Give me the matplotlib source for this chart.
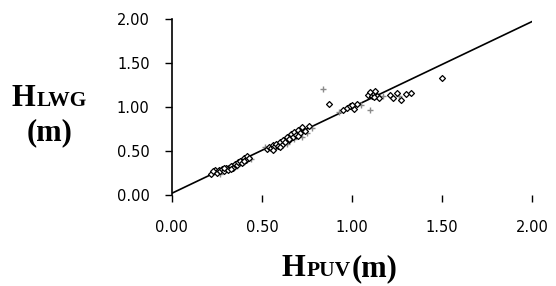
#!/usr/bin/env python3
"""
Scatter of H_LWG against H_PUV with a fitted line.
"""

import matplotlib
matplotlib.use("Agg")
import matplotlib.pyplot as plt

# Diamond points (H_PUV, H_LWG) in metres
puv_diamond = [0.22, 0.24, 0.25, 0.26, 0.27, 0.28, 0.29, 0.30, 0.31, 0.33,
               0.34, 0.35, 0.36, 0.37, 0.38, 0.39, 0.40, 0.41, 0.42, 0.43,
               0.53, 0.54, 0.55, 0.56, 0.57, 0.58, 0.59, 0.60, 0.61, 0.62,
               0.63, 0.64, 0.65, 0.66, 0.67, 0.68, 0.69, 0.70, 0.71, 0.72,
               0.74, 0.76, 0.87, 0.95, 0.97, 0.99, 1.01, 1.03, 1.09, 1.10,
               1.11, 1.12, 1.13, 1.14, 1.15, 1.21, 1.23, 1.25, 1.27, 1.30,
               1.33, 1.50, 0.23, 0.29, 0.33, 0.40, 0.56, 0.60, 0.65, 0.70,
               1.00, 1.12]
hlwg_diamond = [0.24, 0.28, 0.25, 0.29, 0.27, 0.30, 0.27, 0.31, 0.29, 0.33,
                0.31, 0.35, 0.34, 0.37, 0.39, 0.36, 0.42, 0.40, 0.44, 0.42,
                0.52, 0.55, 0.53, 0.57, 0.55, 0.58, 0.56, 0.60, 0.57, 0.63,
                0.60, 0.66, 0.62, 0.69, 0.66, 0.72, 0.68, 0.74, 0.70, 0.77,
                0.73, 0.78, 1.03, 0.96, 0.99, 1.01, 0.98, 1.03, 1.14, 1.17,
                1.12, 1.15, 1.18, 1.13, 1.10, 1.14, 1.10, 1.16, 1.08, 1.15,
                1.16, 1.33, 0.27, 0.31, 0.30, 0.39, 0.51, 0.54, 0.64, 0.67,
                1.02, 1.11]

# Plus points
puv_plus = [0.23, 0.27, 0.32, 0.36, 0.40, 0.44, 0.52, 0.57, 0.61, 0.64,
            0.68, 0.72, 0.75, 0.78, 0.84, 0.93, 1.05, 1.10, 1.17, 1.26]
hlwg_plus = [0.26, 0.24, 0.31, 0.33, 0.38, 0.41, 0.54, 0.52, 0.59, 0.58,
             0.64, 0.66, 0.70, 0.76, 1.20, 0.94, 1.02, 0.97, 1.12, 1.12]

# Fitted line end points
fit_x = [0.0, 2.0]
fit_y = [0.02, 1.97]

ticks = [0.0, 0.5, 1.0, 1.5, 2.0]
tick_labels = ["0.00", "0.50", "1.00", "1.50", "2.00"]

W, H = 556, 286
fig = plt.figure(figsize=(W / 100, H / 100), dpi=100)
ax = fig.add_axes([0.309, 0.318, 0.648, 0.616])

ax.plot(fit_x, fit_y, color="black", linewidth=1.2, zorder=2)
ax.scatter(puv_plus, hlwg_plus, marker="+", s=20, color="#8a8a8a",
           linewidths=1.0, zorder=3)
ax.scatter(puv_diamond, hlwg_diamond, marker="D", s=9, facecolor="white",
           edgecolor="black", linewidths=0.9, zorder=4)

ax.set_xlim(0, 2.0)
ax.set_ylim(0, 2.0)
ax.set_xticks(ticks)
ax.set_xticklabels(tick_labels)
ax.set_yticks(ticks)
ax.set_yticklabels(tick_labels)

for side in ["top", "right", "bottom"]:
    ax.spines[side].set_visible(False)
ax.spines["left"].set_linewidth(1.2)

ax.tick_params(axis="y", direction="out", length=5, width=1.0, pad=11,
               labelsize=10.5)
ax.tick_params(axis="x", direction="out", length=5, width=1.0, pad=13,
               labelsize=10.5)

# Axis titles: big bold serif "H" with small bold subscript on the baseline
serif = "Liberation Serif"


def label_with_sub(x_px, base_px, main, sub, tail=""):
    renderer = fig.canvas.get_renderer()
    t = fig.text(x_px / W, 1 - base_px / H, main, fontsize=22,
                 family=serif, weight="bold", va="baseline", ha="left")
    x1 = t.get_window_extent(renderer).x1
    s = fig.text(x1 / W + 0.002, 1 - base_px / H, sub, fontsize=15.5,
                 family=serif, weight="bold", va="baseline", ha="left")
    if tail:
        x2 = s.get_window_extent(renderer).x1
        fig.text(x2 / W + 0.002, 1 - base_px / H, tail, fontsize=22,
                 family=serif, weight="bold", va="baseline", ha="left")


label_with_sub(12, 106, "H", "LWG")
fig.text(50 / W, 1 - 140 / H, "(m)", fontsize=22, family=serif,
         weight="bold", va="baseline", ha="center")
label_with_sub(282, 276, "H", "PUV", "(m)")

fig.savefig("out.png", dpi=100)
